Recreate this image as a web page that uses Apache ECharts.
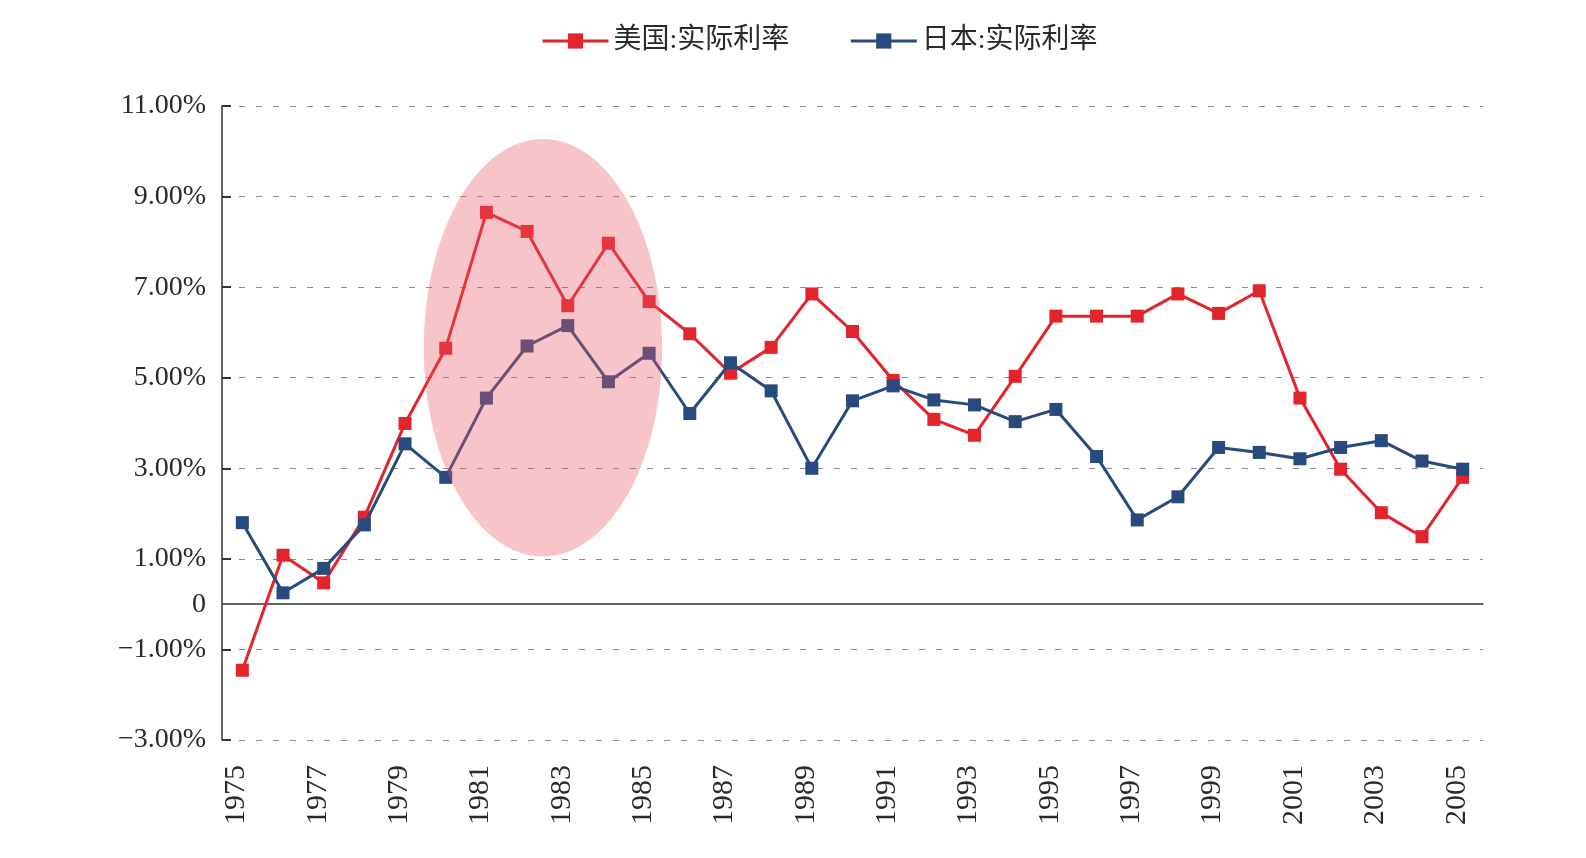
<!DOCTYPE html>
<html lang="zh" style="height: 100%">
    <head>
        <meta charset="utf-8">
        <title>实际利率</title>
    </head>
    <body style="height: 100%; margin: 0; background: #fff">
        <div id="container" style="width: 1586px; height: 858px"></div>
        <script src="https://cdn.jsdelivr.net/npm/echarts@6/dist/echarts.min.js"></script>
        <script>
            let years = [];
            for (let y = 1975; y <= 2005; y++) {
                years.push(String(y));
            }

            let usRate = [-1.46, 1.08, 0.47, 1.92, 3.99, 5.65, 8.65, 8.23, 6.59, 7.97,
                6.68, 5.97, 5.10, 5.67, 6.85, 6.02, 4.94, 4.08, 3.73, 5.03,
                6.36, 6.36, 6.36, 6.85, 6.42, 6.92, 4.55, 2.98, 2.02, 1.49, 2.80];
            let jpRate = [1.80, 0.25, 0.79, 1.75, 3.54, 2.80, 4.55, 5.70, 6.15, 4.91,
                5.54, 4.21, 5.33, 4.71, 3.00, 4.49, 4.82, 4.51, 4.40, 4.03,
                4.30, 3.26, 1.86, 2.37, 3.46, 3.35, 3.21, 3.46, 3.61, 3.16, 2.98];

            // highlight ellipse: [category, value, category offset, x radius (categories), y radius (%)]
            let highlight = [["1982", 5.66, 0.39, 2.93, 4.61]];

            let seriesNames = ["美国:实际利率", "日本:实际利率"];
            let serifFont = "Liberation Serif";

            function pctLabel(v) {
                if (v === 0) {
                    return "0";
                }
                let s = Math.abs(v).toFixed(2) + "%";
                return v < 0 ? "\u2212" + s : s;
            }

            let dom = document.getElementById("container");
            let chart = echarts.init(dom, null, { renderer: "canvas" });

            let option = {
                animation: false,
                backgroundColor: "#fff",
                legend: {
                    left: 536,
                    top: 22,
                    itemWidth: 66,
                    itemHeight: 19,
                    itemGap: 60,
                    lineStyle: { width: 3 },
                    textStyle: {
                        fontSize: 28,
                        color: "#2a2a2a",
                        fontFamily: "Liberation Serif, Noto Sans CJK SC"
                    },
                    data: seriesNames
                },
                grid: {
                    left: 222,
                    right: 103,
                    top: 106,
                    bottom: 118
                },
                xAxis: [
                    {
                        type: "category",
                        data: years,
                        boundaryGap: true,
                        axisLine: { onZero: true, lineStyle: { color: "#333", width: 1.5 } },
                        axisTick: { inside: true, length: 9, interval: 1, lineStyle: { color: "#333", width: 2 } },
                        axisLabel: { show: false },
                        splitLine: { show: false }
                    },
                    {
                        type: "category",
                        data: years,
                        position: "bottom",
                        boundaryGap: true,
                        axisLine: { show: false, onZero: false },
                        axisTick: { show: false },
                        axisLabel: {
                            interval: 1,
                            rotate: 90,
                            margin: 25,
                            verticalAlign: "bottom",
                            lineHeight: 12,
                            fontSize: 30,
                            color: "#2a2a2a",
                            fontFamily: serifFont
                        },
                        splitLine: { show: false }
                    }
                ],
                yAxis: [
                    {
                        type: "value",
                        min: -3,
                        max: 11,
                        interval: 2,
                        axisLine: { show: true, lineStyle: { color: "#333", width: 1.5 } },
                        axisTick: { show: true, inside: true, length: 9, lineStyle: { color: "#333", width: 2 } },
                        axisLabel: {
                            margin: 16,
                            fontSize: 28,
                            color: "#2a2a2a",
                            fontFamily: serifFont,
                            formatter: pctLabel
                        },
                        splitLine: {
                            show: true,
                            lineStyle: { color: "#8c8c8c", width: 1.2, type: [6, 11] }
                        }
                    },
                    {
                        type: "value",
                        min: -3,
                        max: 11,
                        interval: 3,
                        position: "left",
                        axisLine: { show: false },
                        axisTick: { show: false },
                        splitLine: { show: false },
                        axisLabel: {
                            margin: 16,
                            fontSize: 28,
                            color: "#2a2a2a",
                            fontFamily: serifFont,
                            formatter: function (v) {
                                return v === 0 ? "0" : "";
                            }
                        }
                    }
                ],
                series: [
                    {
                        name: seriesNames[0],
                        type: "line",
                        data: usRate,
                        symbol: "rect",
                        symbolSize: 13,
                        color: "#e3242b",
                        lineStyle: { width: 3, color: "#e3242b" },
                        itemStyle: { color: "#e3242b" },
                        z: 2
                    },
                    {
                        name: seriesNames[1],
                        type: "line",
                        data: jpRate,
                        symbol: "rect",
                        symbolSize: 13,
                        color: "#284a7e",
                        lineStyle: { width: 3, color: "#284a7e" },
                        itemStyle: { color: "#284a7e" },
                        z: 3
                    },
                    {
                        type: "custom",
                        silent: true,
                        clip: false,
                        z: 5,
                        encode: { x: 0, y: 1 },
                        data: highlight,
                        renderItem: function (params, api) {
                            let c = api.coord([api.value(0), api.value(1)]);
                            let band = api.coord([1, 0])[0] - api.coord([0, 0])[0];
                            let top = api.coord([api.value(0), api.value(1) + api.value(4)]);
                            return {
                                type: "ellipse",
                                shape: {
                                    cx: c[0] + api.value(2) * band,
                                    cy: c[1],
                                    rx: api.value(3) * band,
                                    ry: c[1] - top[1]
                                },
                                style: { fill: "rgba(232, 90, 100, 0.35)" }
                            };
                        }
                    }
                ]
            };

            chart.setOption(option);
        </script>
    </body>
</html>
